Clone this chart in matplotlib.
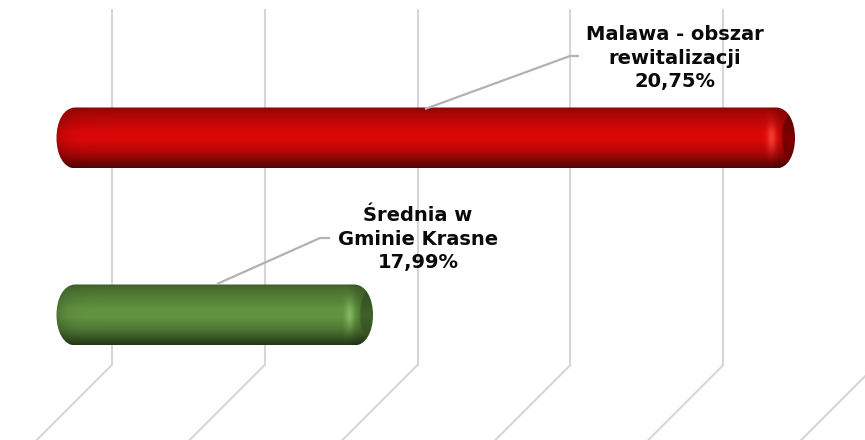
import matplotlib
matplotlib.use("Agg")
import matplotlib.pyplot as plt
import numpy as np
from matplotlib.path import Path
from matplotlib.patches import PathPatch

labels = ["Malawa - obszar\nrewitalizacji\n20,75%", "Średnia w\nGminie Krasne\n17,99%"]
values = [20.75, 17.99]
colors = [(0.86, 0.03, 0.03), (0.38, 0.58, 0.25)]
glow_colors = [(1.0, 0.30, 0.25), (0.56, 0.76, 0.42)]
cap_colors = [(0.50, 0.0, 0.0), (0.25, 0.38, 0.16)]
grid_values = [16, 17, 18, 19, 20, 21]
axis_min = 15.92

W, H = 865, 440
PX_PER_UNIT = 152.9
RIGHT_PX = 795  # where the longest bar ends


def vx(v):
    return RIGHT_PX + (v - values[0]) * PX_PER_UNIT


fig = plt.figure(figsize=(W / 100, H / 100), dpi=100)
ax = fig.add_axes([0, 0, 1, 1])
ax.axis("off")
# x axis in value units, y axis in category units (177 px between the bars)
xlim = (values[0] - RIGHT_PX / PX_PER_UNIT, values[0] + (W - RIGHT_PX) / PX_PER_UNIT)
ylim = ((H - 138) / 177, -138 / 177)


def py(y):
    return (y - 138) / 177


grid_col = "#d6d6d6"
back_shift = 43 / PX_PER_UNIT
for g in grid_values:
    gx = g + back_shift
    ax.plot([gx, gx], [py(10), py(365)], color=grid_col, lw=1.5, zorder=1)
    ax.plot([gx, gx - 78 / PX_PER_UNIT], [py(365), py(443)], color=grid_col, lw=1.5, zorder=1)

stops_t = [0, 0.06, 0.22, 0.42, 0.55, 0.75, 0.9, 1]
stops_f = [0.62, 0.74, 0.86, 1.0, 1.0, 0.8, 0.55, 0.38]

for i, val in enumerate(values):
    x0, x1 = vx(axis_min), vx(val)
    top, bot = -30.5 + 138 + i * 177, 30.5 + 138 + i * 177
    mid = (top + bot) / 2
    nx, ny = int(x1 - x0) * 2, 122
    xs = np.linspace(x0, x1, nx)
    ys = np.linspace(top, bot, ny)
    xx, yy = np.meshgrid(xs, ys)
    f = np.interp((yy - top) / (bot - top), stops_t, stops_f)
    f = f * (1 - 0.22 * np.exp(-(xx - x0) / 9))  # left rim
    f = f * (1 - 0.15 * np.clip((xx - (x1 - 26)) / 14, 0, 1))
    img = np.array(colors[i])[None, None, :] * f[:, :, None]

    # highlight in front of the cap
    glow = np.exp(-((xx - (x1 - 23)) / 4.5) ** 2 - ((yy - mid) / 14) ** 2)
    img = img + (np.array(glow_colors[i]) - img) * (0.75 * glow)[:, :, None]

    # dark end cap
    e = ((xx - (x1 + 2)) / 15) ** 2 + ((yy - mid) / 30) ** 2
    cap = np.clip((1.08 - e) / 0.25, 0, 1)
    capf = 1 - 0.25 * np.abs(yy - mid) / 30
    cap_img = np.array(cap_colors[i])[None, None, :] * capf[:, :, None]
    img = img * (1 - cap[:, :, None]) + cap_img * cap[:, :, None]
    img = np.clip(img, 0, 1)

    u = 1 / PX_PER_UNIT
    v0, v1 = axis_min, val
    r = 19 * u
    ty, by, my = py(top), py(bot), py(mid)
    verts = [
        (v0 + r, ty), (v1 - r, ty),
        (v1 - 7 * u, ty), (v1, py(top + 14)), (v1, my),
        (v1, py(bot - 14)), (v1 - 7 * u, by), (v1 - r, by),
        (v0 + r, by),
        (v0 + 7 * u, by), (v0, py(bot - 14)), (v0, my),
        (v0, py(top + 14)), (v0 + 7 * u, ty), (v0 + r, ty),
    ]
    codes = [Path.MOVETO, Path.LINETO,
             Path.CURVE4, Path.CURVE4, Path.CURVE4,
             Path.CURVE4, Path.CURVE4, Path.CURVE4,
             Path.LINETO,
             Path.CURVE4, Path.CURVE4, Path.CURVE4,
             Path.CURVE4, Path.CURVE4, Path.CURVE4]
    patch = PathPatch(Path(verts, codes), fc="none", ec="none", zorder=3)
    ax.add_patch(patch)
    im = ax.imshow(img, extent=(v0, v1, by, ty), aspect="auto", zorder=3, interpolation="bilinear")
    im.set_clip_path(patch)

# leader lines and labels
lead_col = "#b2b2b2"
leaders = [[(425, 109), (570, 56), (579, 56)], [(217, 284), (320, 238), (330, 238)]]
label_pos = [(675, 58), (418, 239)]
for i, pts in enumerate(leaders):
    lx = [values[0] + (p[0] - RIGHT_PX) / PX_PER_UNIT for p in pts]
    ly = [py(p[1]) for p in pts]
    ax.plot(lx, ly, color=lead_col, lw=1.6, zorder=4, solid_capstyle="butt")
    tx = values[0] + (label_pos[i][0] - RIGHT_PX) / PX_PER_UNIT
    ax.text(tx, py(label_pos[i][1]), labels[i], ha="center", va="center", multialignment="center",
            fontsize=14, fontweight="bold", family="DejaVu Sans", color="#0a0a0a",
            linespacing=1.27, zorder=5)

ax.set_xlim(*xlim)
ax.set_ylim(*ylim)
fig.savefig("out.png", dpi=100)
